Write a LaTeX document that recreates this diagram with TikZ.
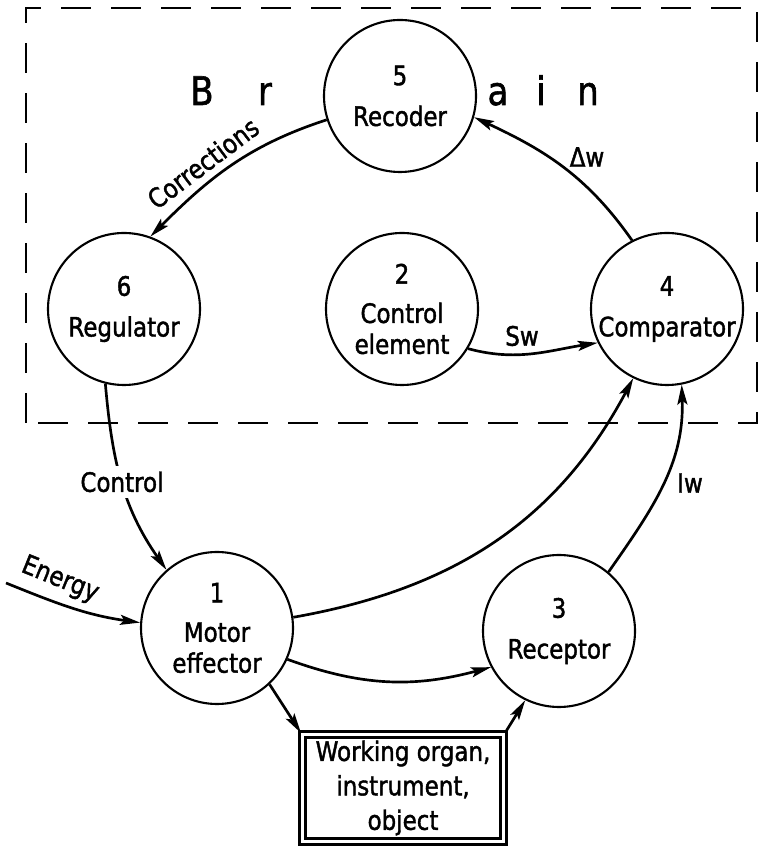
\documentclass[tikz,border=0pt]{standalone}
\usepackage{fontspec}
\setmainfont[FakeStretch=0.86, FakeBold=1.5]{DejaVu Sans}
\usetikzlibrary{arrows.meta}
\tikzstyle{arrow} = [line width=1.9pt,-{Stealth[length=5mm,width=2.5mm,inset=1mm]}]
\tikzstyle{unit} = [circle, draw, line width=1.5pt, minimum size=38mm, inner sep=0pt, align=center, font=\fontsize{19}{22}\selectfont]
\tikzstyle{organ} = [rectangle, draw, double, line width=0.7mm, double distance=0.8mm, minimum width=50.3mm, minimum height=26.8mm, inner sep=0pt, align=center, font=\fontsize{19}{24.5}\selectfont]
\tikzstyle{tag} = [inner sep=1pt, font=\fontsize{19}{22}\selectfont]
\tikzstyle{brainletter} = [anchor=base, inner sep=0pt, font=\fontsize{28}{32}\selectfont]

\begin{document}
\begin{tikzpicture}[x=0.25mm, y=0.25mm]
  \useasboundingbox (0,0) rectangle (760,848);

  % Brain boundary
  \draw[line width=1.4pt, dash pattern=on 7.5mm off 5mm] (26,425) rectangle (757,840);
  \foreach \ch/\x in {B/202, r/265, a/498, i/541, n/588}
    \node[brainletter] (l\ch) at (\x,743) {\ch};

  % Units
  \node[unit] (recoder) at (400,752) {5\\[7pt]Recoder};
  \node[unit] (regulator) at (124,539) {6\\[7pt]Regulator};
  \node[unit] (control) at (402,539) {2\\[6pt]Control\\element};
  \node[unit] (comparator) at (667,539) {4\\[7pt]Comparator};
  \node[unit] (motor) at (217,220) {1\\[6pt]Motor\\effector};
  \node[unit] (receptor) at (559,217) {3\\[7pt]Receptor};
  \node[organ] (organ) at (403,60) {Working organ,\\instrument,\\object};

  % Free end of the energy input
  \coordinate (energy) at (6,265);

  % Labels
  \node[tag, rotate=37] (corr) at (203,685) {Corrections};
  \node[tag] (dw) at (587,691) {Δw};
  \node[tag] (sw) at (522,512) {Sw};
  \node[tag] (iw) at (690,365) {Iw};
  \node[tag, rotate=-22] (en) at (60,268) {Energy};

  % Connections inside the brain
  \draw[arrow] (recoder.198) to[out=198,in=45] (regulator.70);
  \draw[arrow] (comparator.117) to[out=125,in=-25] (recoder.-16);
  \draw[arrow] (control.-31) to[out=-15,in=189] (comparator.206);

  % Connections outside
  \draw[arrow] (regulator.-104) to[out=-85,in=125]
    node[tag, fill=white, inner sep=4pt] (ctl) {Control} (motor.131);
  \draw[arrow] (energy) to[out=-22,in=172] (motor.176);
  \draw[arrow] (motor.8) to[out=10,in=-118] (comparator.-116);
  \draw[arrow] (receptor.50) to[out=55,in=-88] (comparator.-79);
  \draw[arrow] (motor.-24) to[out=-20,in=195] (receptor.208);
  \draw[arrow] (motor.-47) -- (organ.north west);
  \draw[arrow] (organ.north east) -- (receptor.244);
\end{tikzpicture}
\end{document}
